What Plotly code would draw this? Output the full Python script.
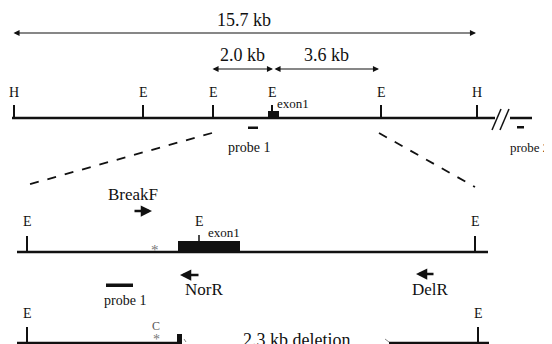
import plotly.graph_objects as go

# ---------------- data (diagram positions, in diagram units) ----------------
top_sites_x = [14, 143, 213, 272, 381, 477]
top_sites_lab = ["H", "E", "E", "E", "E", "H"]
top_line_y = 118

mid_sites_x = [27, 475]
mid_sites_lab = ["E", "E"]
mid_exon_site_x = 199
mid_line_y = 252

bot_sites_x = [27, 478]
bot_sites_lab = ["E", "E"]
bot_line_y = 343

span_labels = ["15.7 kb", "2.0 kb", "3.6 kb"]
span_start = [12, 211, 273]
span_end = [476, 273, 379]
span_y = [33, 69, 69]
span_text_y = [20, 55, 55]

primer_names = ["BreakF", "NorR", "DelR"]
primer_from = [133, 200, 435]
primer_to = [152, 180, 416]
primer_y = [211, 275, 274]
primer_text_x = [133, 204, 430]
primer_text_y = [194, 289, 289]

SERIF = "Liberation Serif, Times New Roman, serif"
INK = "#111111"
OFF = 8  # page body margin compensation
W, H = 552, 344

fig = go.Figure()

def seg(x0, y0, x1, y1, width=2, dash=None, color=INK):
    fig.add_trace(go.Scatter(x=[x0, x1], y=[y0, y1], mode="lines",
                             line=dict(color=color, width=width, dash=dash),
                             hoverinfo="skip", showlegend=False))

def txt(x, y, s, size=12, color=INK, xanchor="center"):
    fig.add_annotation(x=x, y=y, text=s, showarrow=False, xanchor=xanchor,
                       yanchor="middle", font=dict(family=SERIF, size=size, color=color))

def rect(x0, y0, x1, y1):
    fig.add_shape(type="rect", xref="x", yref="y", x0=x0, x1=x1, y0=y0, y1=y1,
                  fillcolor=INK, line=dict(width=0))

# ---- span arrows
for lab, a, b, y, ty in zip(span_labels, span_start, span_end, span_y, span_text_y):
    fig.add_annotation(x=b, y=y, ax=a, ay=y, xref="x", yref="y", axref="x", ayref="y",
                       text="", showarrow=True, arrowhead=2, arrowside="end+start",
                       arrowsize=1.1, arrowwidth=1.1, arrowcolor=INK)
    txt((a + b) / 2, ty, lab, size=18)

# ---- top map
seg(12, top_line_y, 495, top_line_y, width=2.5)
seg(510, top_line_y, 532, top_line_y, width=2.5)
seg(492, 130, 501, 109, width=1.5)
seg(500, 130, 509, 109, width=1.5)
for x, lab in zip(top_sites_x, top_sites_lab):
    seg(x, 105, x, top_line_y, width=2)
    txt(x, 92, lab, size=14)
rect(268, 111, 279, top_line_y + 1)
txt(275, 103, "exon1", size=13, xanchor="left")
rect(248, 126.5, 258, 129)
txt(249, 147, "probe 1", size=14)
rect(517, 126, 524, 128.5)
txt(551, 147, "probe 2", size=13, xanchor="right")

# ---- zoom dashed lines
seg(212, 133, 27, 185, width=1.8, dash="dash")
seg(379, 133, 475, 187, width=1.8, dash="dash")

# ---- middle map
seg(17, mid_line_y, 488, mid_line_y, width=2.5)
for x, lab in zip(mid_sites_x, mid_sites_lab):
    seg(x, 236, x, mid_line_y, width=2)
    txt(x, 221, lab, size=14)
rect(178, 241, 240, mid_line_y + 1)
seg(mid_exon_site_x, 235, mid_exon_site_x, 241, width=1.5)
txt(mid_exon_site_x, 221, "E", size=14)
txt(224, 232, "exon1", size=13)
txt(155, 250, "*", size=15, color="#777777")
rect(106, 283.5, 133, 287)
txt(125, 300, "probe 1", size=14)

# ---- primers
for name, a, b, y, tx, ty in zip(primer_names, primer_from, primer_to, primer_y,
                                 primer_text_x, primer_text_y):
    fig.add_annotation(x=b, y=y, ax=a, ay=y, xref="x", yref="y", axref="x", ayref="y",
                       text="", showarrow=True, arrowhead=2, arrowsize=0.9,
                       arrowwidth=2.5, arrowcolor=INK)
    txt(tx, ty, name, size=17)

# ---- bottom (deleted allele)
seg(17, bot_line_y, 177, bot_line_y, width=2.5)
seg(389, bot_line_y, 489, bot_line_y, width=2.5)
for x, lab in zip(bot_sites_x, bot_sites_lab):
    seg(x, 327, x, bot_line_y, width=2)
    txt(x, 313, lab, size=14)
rect(177, 334, 182, 345)
txt(156, 326, "C", size=12, color="#555555")
txt(156, 339, "*", size=14, color="#777777")
seg(184, 339, 186, 342, width=1, color="#888888")
seg(385, 339, 389, 342, width=1, color="#888888")
txt(296, 340, "2.3 kb deletion", size=18)

fig.update_xaxes(range=[OFF, W], visible=False, fixedrange=True)
fig.update_yaxes(range=[H, OFF], visible=False, fixedrange=True)
fig.update_layout(width=W - OFF, height=H - OFF, margin=dict(l=0, r=0, t=0, b=0),
                  plot_bgcolor="white", paper_bgcolor="white", showlegend=False)

fig.write_html("out.html")
